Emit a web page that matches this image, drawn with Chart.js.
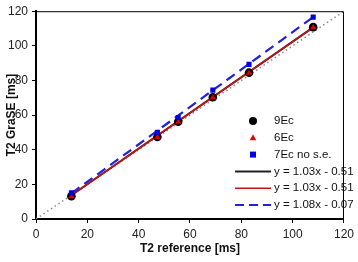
<!DOCTYPE html>
<html>
<head>
<meta charset="utf-8">
<script src="https://cdn.jsdelivr.net/npm/chart.js@4"></script>
<style>
  html, body { margin: 0; padding: 0; background: #fff; }
  #wrap { width: 358px; height: 262px; position: relative; }
</style>
</head>
<body>
<div id="wrap"><canvas id="t2Chart"></canvas></div>
<script>
// values
const refT2 = [13.8, 47.3, 55.4, 68.9, 83.0, 108.0];
const ec9 = [13.2, 47.4, 56.2, 70.3, 84.5, 110.8];
const ec6 = [13.0, 47.2, 56.0, 70.1, 84.3, 110.6];
const ec7 = [15.1, 50.0, 58.6, 74.4, 89.3, 116.6];

// fit line endpoints (x from first to last reference point)
const fitX = [13.8, 108.0];
const fit9 = [13.7, 110.7];
const fit6 = [13.7, 110.7];
const fit7 = [14.8, 116.6];
const identity = [0, 120];

const xTicks = [0, 20, 40, 60, 80, 100, 120];
const yTicks = [0, 20, 40, 60, 80, 100, 120];

const legendItems = [
    { label: '9Ec', kind: 'circle', color: '#000' },
    { label: '6Ec', kind: 'triangle', color: '#e00000' },
    { label: '7Ec no s.e.', kind: 'square', color: '#0000e0' },
    { label: 'y = 1.03x - 0.51', kind: 'line', color: '#222', width: 2, dash: [] },
    { label: 'y = 1.03x - 0.51', kind: 'line', color: '#d01010', width: 1.5, dash: [] },
    { label: 'y = 1.08x - 0.07', kind: 'line', color: '#2020e0', width: 2, dash: [9, 5] }
];

const pts = (xs, ys) => xs.map((x, i) => ({ x: x, y: ys[i] }));

const FONT = 'Liberation Sans, Arial, sans-serif';

const frameAndLegend = {
    id: 'frameAndLegend',
    afterDraw(chart) {
        const ctx = chart.ctx;
        const a = chart.chartArea;
        ctx.save();
        // thin top / right frame
        ctx.strokeStyle = '#000';
        ctx.lineWidth = 1;
        ctx.beginPath();
        ctx.moveTo(a.left, a.top + 0.5);
        ctx.lineTo(a.right - 0.5, a.top + 0.5);
        ctx.lineTo(a.right - 0.5, a.bottom);
        ctx.stroke();

        // legend in the lower right corner
        const markX = 253, textX = 274;
        let y = 121;
        ctx.font = '11.5px ' + FONT;
        ctx.textBaseline = 'middle';
        ctx.textAlign = 'left';
        legendItems.forEach(item => {
            ctx.fillStyle = item.color;
            ctx.strokeStyle = item.color;
            if (item.kind === 'circle') {
                ctx.beginPath();
                ctx.arc(markX, y, 4, 0, Math.PI * 2);
                ctx.fill();
            } else if (item.kind === 'triangle') {
                ctx.beginPath();
                ctx.moveTo(markX, y - 3.5);
                ctx.lineTo(markX + 3.2, y + 2.5);
                ctx.lineTo(markX - 3.2, y + 2.5);
                ctx.closePath();
                ctx.fill();
            } else if (item.kind === 'square') {
                ctx.fillRect(markX - 3, y - 3, 6, 6);
            } else {
                ctx.lineWidth = item.width;
                ctx.setLineDash(item.dash);
                ctx.beginPath();
                ctx.moveTo(235, y);
                ctx.lineTo(271, y);
                ctx.stroke();
                ctx.setLineDash([]);
            }
            ctx.fillStyle = '#111';
            ctx.fillText(item.label, textX, y);
            y += 16.8;
        });
        ctx.restore();
    }
};

function initChart() {
    const ctx = document.getElementById('t2Chart').getContext('2d');
    // lower "order" is painted on top
    const config = {
        type: 'scatter',
        data: {
            datasets: [
                {
                    label: 'identity',
                    order: 7,
                    data: pts(identity, identity),
                    showLine: true,
                    borderColor: '#888',
                    borderWidth: 1.5,
                    borderDash: [1.5, 3],
                    pointRadius: 0
                },
                {
                    label: 'fit 9Ec',
                    order: 6,
                    data: pts(fitX, fit9),
                    showLine: true,
                    borderColor: '#222',
                    borderWidth: 2,
                    pointRadius: 0
                },
                {
                    label: 'fit 6Ec',
                    order: 5,
                    data: pts(fitX, fit6),
                    showLine: true,
                    borderColor: '#d01010',
                    borderWidth: 1.5,
                    pointRadius: 0
                },
                {
                    label: 'fit 7Ec',
                    order: 4,
                    data: pts(fitX, fit7),
                    showLine: true,
                    borderColor: '#2020e0',
                    borderWidth: 2.2,
                    borderDash: [10, 6],
                    pointRadius: 0
                },
                {
                    label: '9Ec',
                    order: 3,
                    data: pts(refT2, ec9),
                    pointStyle: 'circle',
                    pointRadius: 4.3,
                    backgroundColor: '#000',
                    borderColor: '#000',
                    borderWidth: 0
                },
                {
                    label: '6Ec',
                    order: 2,
                    data: pts(refT2, ec6),
                    pointStyle: 'triangle',
                    pointRadius: 3.6,
                    backgroundColor: '#d80000',
                    borderColor: '#d80000',
                    borderWidth: 0
                },
                {
                    label: '7Ec no s.e.',
                    order: 1,
                    data: pts(refT2, ec7),
                    pointStyle: 'rect',
                    pointRadius: 3.6,
                    backgroundColor: '#0000e0',
                    borderColor: '#0000e0',
                    borderWidth: 0
                }
            ]
        },
        options: {
            responsive: true,
            maintainAspectRatio: false,
            animation: false,
            layout: { padding: { top: 6, right: 10, left: 0, bottom: 0 } },
            plugins: {
                legend: { display: false },
                tooltip: { enabled: false }
            },
            scales: {
                x: {
                    type: 'linear',
                    min: 0,
                    max: 120,
                    afterBuildTicks: (scale) => { scale.ticks = xTicks.map(v => ({ value: v })); },
                    afterFit: (scale) => { scale.height = 43; },
                    grid: { drawOnChartArea: false, drawTicks: true, tickLength: 4, tickColor: '#000', tickWidth: 1 },
                    border: { display: true, color: '#000', width: 2 },
                    ticks: { color: '#222', font: { family: FONT, size: 12 }, padding: 4, maxRotation: 0 },
                    title: {
                        display: true,
                        text: 'T2 reference [ms]',
                        color: '#111',
                        font: { family: FONT, size: 12, weight: 'bold' },
                        padding: { top: 0, bottom: 6 }
                    }
                },
                y: {
                    type: 'linear',
                    min: 0,
                    max: 120,
                    afterBuildTicks: (scale) => { scale.ticks = yTicks.map(v => ({ value: v })); },
                    afterFit: (scale) => { scale.width = 36; },
                    grid: { drawOnChartArea: false, drawTicks: true, tickLength: 4, tickColor: '#000', tickWidth: 1 },
                    border: { display: true, color: '#000', width: 2 },
                    ticks: { color: '#222', font: { family: FONT, size: 12 }, padding: 4 },
                    title: {
                        display: true,
                        text: 'T2 GraSE [ms]',
                        color: '#111',
                        font: { family: FONT, size: 12, weight: 'bold' },
                        padding: { top: 4, bottom: 0 }
                    }
                }
            }
        },
        plugins: [frameAndLegend]
    };
    new Chart(ctx, config);
}

document.addEventListener('DOMContentLoaded', initChart);
</script>
</body>
</html>
